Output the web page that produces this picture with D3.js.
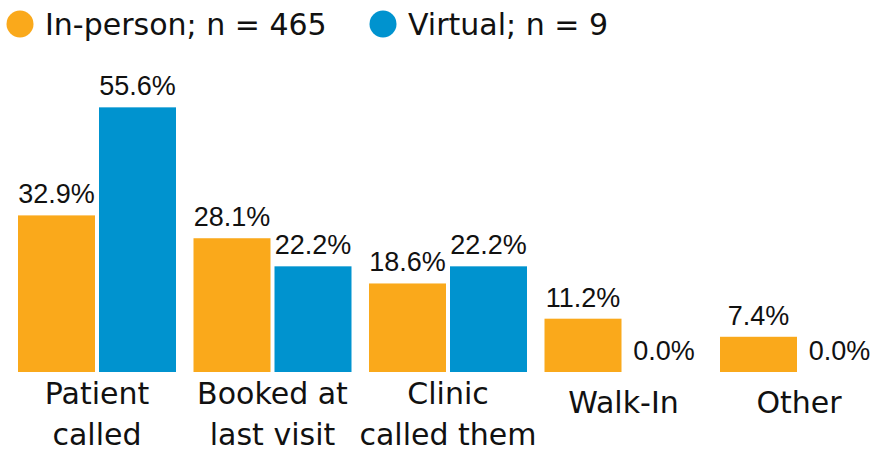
<!DOCTYPE html>
<html>
<head>
<meta charset="utf-8">
<script src="https://cdn.jsdelivr.net/npm/d3@7"></script>
<style>
  body { margin: 0; background: #fff; }
  svg { display: block; }
</style>
</head>
<body>
<div id="chart"></div>
<script>
// data
const categories = ["Patient called", "Booked at last visit", "Clinic called them", "Walk-In", "Other"];
const categoryLines = [["Patient", "called"], ["Booked at", "last visit"], ["Clinic", "called them"], ["Walk-In"], ["Other"]];
const seriesNames = ["In-person; n = 465", "Virtual; n = 9"];
const inPerson = [32.9, 28.1, 18.6, 11.2, 7.4];
const virtual = [55.6, 22.2, 22.2, 0.0, 0.0];
const colors = ["#FAA91B", "#0093CF"];

let width = 875,
    height = 454,
    baseline = 372, // px, bottom of bars
    labelFont = "'DejaVu Sans', Verdana, sans-serif",
    valueFont = "'Liberation Sans', Arial, sans-serif";

let svg = d3.select("#chart")
    .append("svg")
    .attr("width", width)
    .attr("height", height);

// scales: group step 175.5 px, group width 158 px
let x0 = d3.scaleBand()
    .domain(categories)
    .range([18, 878])
    .paddingInner(17.5 / 175.5)
    .paddingOuter(0);

let x1 = d3.scaleBand()
    .domain([0, 1])
    .range([0, x0.bandwidth()])
    .paddingInner(4 / 81);

let y = d3.scaleLinear()
    .domain([0, 60])
    .range([baseline, baseline - 60 * 4.76]);

let rows = categories.map((c, i) => ({
    cat: c,
    lines: categoryLines[i],
    values: [inPerson[i], virtual[i]]
}));

// bars
let groups = svg.append("g")
    .selectAll("g.group")
    .data(rows)
    .join("g")
    .attr("class", "group")
    .attr("transform", d => `translate(${x0(d.cat)},0)`);

groups.selectAll("rect")
    .data(d => d.values.map((v, s) => ({v: v, s: s})))
    .join("rect")
    .attr("x", d => x1(d.s))
    .attr("y", d => y(d.v))
    .attr("width", x1.bandwidth())
    .attr("height", d => baseline - y(d.v))
    .attr("fill", d => colors[d.s]);

// value labels
groups.selectAll("text.value")
    .data(d => d.values.map((v, s) => ({v: v, s: s})))
    .join("text")
    .attr("class", "value")
    .attr("x", d => x1(d.s) + x1.bandwidth() / 2)
    .attr("y", d => y(d.v) - 12)
    .attr("text-anchor", "middle")
    .attr("font-family", valueFont)
    .attr("font-size", 27)
    .attr("fill", "#111")
    .text(d => d.v.toFixed(1) + "%");

// category labels
groups.append("text")
    .attr("text-anchor", "middle")
    .attr("font-family", labelFont)
    .attr("font-size", 30)
    .attr("fill", "#111")
    .each(function(d) {
        let t = d3.select(this);
        let y0 = d.lines.length > 1 ? 404 : 413;
        d.lines.forEach((line, k) => {
            t.append("tspan")
                .attr("x", x0.bandwidth() / 2)
                .attr("y", y0 + k * 41)
                .text(line);
        });
    });

// legend
let legendX = [20, 383];
let legend = svg.append("g")
    .selectAll("g")
    .data(seriesNames)
    .join("g")
    .attr("transform", (d, i) => `translate(${legendX[i]},24)`);

legend.append("circle")
    .attr("r", 13.5)
    .attr("fill", (d, i) => colors[i]);

legend.append("text")
    .attr("x", 25)
    .attr("y", 11)
    .attr("font-family", labelFont)
    .attr("font-size", 30)
    .attr("fill", "#111")
    .text(d => d);
</script>
</body>
</html>
